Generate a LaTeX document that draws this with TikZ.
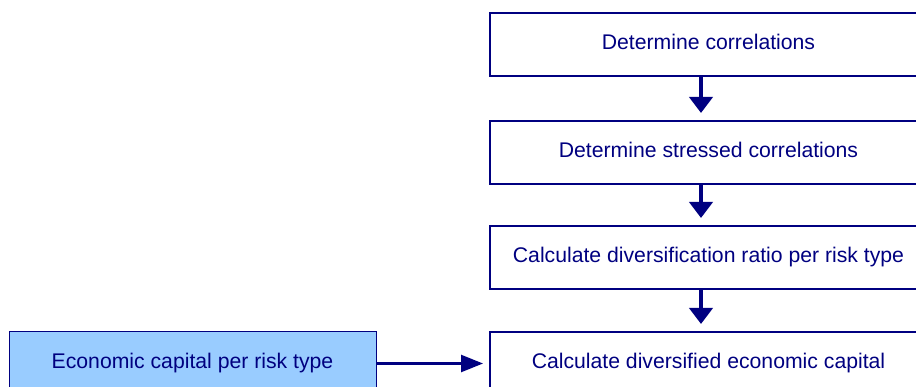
\documentclass[tikz,border=0pt]{standalone}
\usepackage{fontspec}
\setmainfont{Liberation Sans}
\usetikzlibrary{arrows.meta}
\definecolor{navy}{RGB}{0,0,128}
\definecolor{skyfill}{RGB}{153,204,255}

\begin{document}
\begin{tikzpicture}[x=1pt, y=-1pt,
        stepbox/.style={draw=navy, line width=2pt, minimum width=438pt, minimum height=63pt, inner sep=0pt, text height=15.5pt, text depth=6pt, text=navy, font=\fontsize{21.2pt}{25pt}\selectfont},
        inputbox/.style={draw=navy, line width=1pt, fill=skyfill, minimum width=367pt, minimum height=64pt, inner sep=0pt, text height=15.5pt, text depth=6pt, text=navy, font=\fontsize{21.2pt}{25pt}\selectfont},
        downarrow/.style={navy, line width=4pt, -{Triangle[length=16pt,width=23pt]}, shorten >=7pt},
        sidearrow/.style={navy, line width=2.5pt, -{Triangle[length=22pt,width=17pt]}, shorten >=5.5pt}]
                \useasboundingbox (0,0) rectangle (916,387);

                \node[stepbox] (Corr) at (708.5,45) {Determine correlations};
                \node[stepbox] (Stress) at (708.5,152.5) {Determine stressed correlations};
                \node[stepbox] (Ratio) at (708.5,257.5) {Calculate diversification ratio per risk type};
                \node[stepbox] (DivEC) at (708.5,363.5) {Calculate diversified economic capital};
                \node[inputbox] (EC) at (192.5,363.5) {Economic capital per risk type};

                \draw[downarrow] (Corr.south -| 701,0) -- (Stress.north -| 701,0);
                \draw[downarrow] (Stress.south -| 701,0) -- (Ratio.north -| 701,0);
                \draw[downarrow] (Ratio.south -| 701,0) -- (DivEC.north -| 701,0);
                \draw[sidearrow] (EC) -- (DivEC);
\end{tikzpicture}
\end{document}
